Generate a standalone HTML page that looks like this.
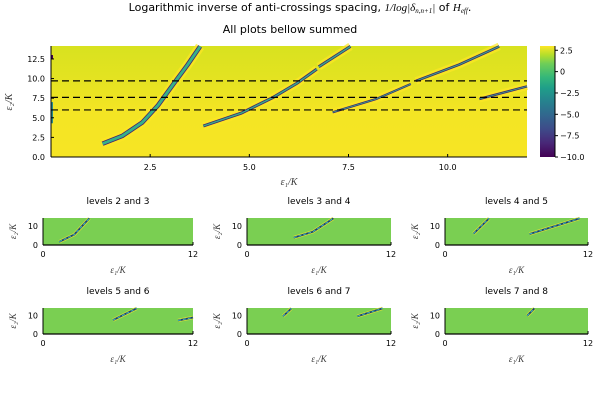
<!DOCTYPE html>
<html><head><meta charset="utf-8">
<style>
body{margin:0;background:#fff;width:600px;height:400px;overflow:hidden;font-family:"Liberation Sans","DejaVu Sans",sans-serif}
svg text{font-family:"DejaVu Sans","Liberation Sans",sans-serif}
.m{font-family:"Liberation Serif",serif;font-style:italic}
</style></head>
<body>
<svg id="chart" width="600" height="400" viewBox="0 0 600 400">
<defs>
<linearGradient id="viridis" x1="0" y1="1" x2="0" y2="0">
<stop offset="0" stop-color="#440154"/><stop offset="0.13" stop-color="#482878"/><stop offset="0.25" stop-color="#3e4a89"/><stop offset="0.38" stop-color="#31688e"/><stop offset="0.5" stop-color="#26828e"/><stop offset="0.62" stop-color="#1f9e89"/><stop offset="0.72" stop-color="#35b779"/><stop offset="0.84" stop-color="#6ece58"/><stop offset="0.92" stop-color="#b5de2b"/><stop offset="1" stop-color="#fde725"/>
</linearGradient>
<linearGradient id="mainbg" x1="0" y1="0" x2="0" y2="1">
<stop offset="0" stop-color="#d8e21f"/><stop offset="0.3" stop-color="#e4e321"/><stop offset="0.6" stop-color="#f4e524"/><stop offset="1" stop-color="#f6e524"/>
</linearGradient>
</defs>
<text x="300" y="11" font-size="11" text-anchor="middle">Logarithmic inverse of anti-crossings spacing, <tspan class="m">1/log|δ</tspan><tspan class="m" font-size="7" dy="2">n,n+1</tspan><tspan class="m" dy="-2">|</tspan>  of <tspan class="m">H</tspan><tspan class="m" font-size="7" dy="2">eff</tspan><tspan dy="-2">.</tspan></text>
<text x="290" y="33" font-size="11" text-anchor="middle">All plots bellow summed</text>
<g id="main"></g>
<g id="cbar"></g>
<g id="smalls"></g>
</svg>
<script>
// ---- data ----
const mainXTicks = [2.5, 5.0, 7.5, 10.0];
const mainXTickLabels = ["2.5", "5.0", "7.5", "10.0"];
const mainYTicks = [0, 2.5, 5, 7.5, 10, 12.5];
const mainYTickLabels = ["0.0", "2.5", "5.0", "7.5", "10.0", "12.5"];
const dashedLevels = [6.0, 7.6, 9.7];
const cbarTicks = [2.5, 0, -2.5, -5, -7.5, -10];
const cbarTickLabels = ["2.5", "0", "−2.5", "−5.0", "−7.5", "−10.0"];
const streak1X = [1.3, 1.8, 2.3, 2.7, 3.1, 3.45, 3.76];
const streak1Y = [1.7, 2.7, 4.4, 6.6, 9.4, 11.8, 14.1];
const streak2X = [3.84, 4.8, 5.6, 6.2, 6.7];
const streak2Y = [3.95, 5.6, 7.6, 9.4, 11.2];
const streak3X = [6.75, 7.55];
const streak3Y = [11.5, 14.1];
const streak4X = [7.1, 8.2, 9.07];
const streak4Y = [5.7, 7.4, 9.3];
const streak5X = [9.2, 10.3, 11.3];
const streak5Y = [9.7, 11.8, 14.1];
const streak6X = [10.8, 12.0];
const streak6Y = [7.4, 9.0];
const streakWidths = [4.5, 3, 3, 2.2, 2.6, 2.4];
const leftEdgeY0 = [4.3, 12.5];
const leftEdgeY1 = [7.0, 13.0];
const smallTitles = ["levels 2 and 3","levels 3 and 4","levels 4 and 5","levels 5 and 6","levels 6 and 7","levels 7 and 8"];
const smallStreaksX = [
 [[1.3, 2.5, 3.7]],
 [[3.9, 5.5, 7.2]],
 [[2.4, 3.7], [7.1, 11.3]],
 [[5.6, 7.5], [10.8, 12]],
 [[3.0, 3.7], [9.2, 11.3]],
 [[6.9, 7.5]]
];
const smallStreaksY = [
 [[1.7, 5.5, 14]],
 [[3.9, 7.0, 14]],
 [[6, 14], [5.8, 14]],
 [[7.6, 14], [7.4, 9]],
 [[9.7, 14], [9.7, 14]],
 [[10, 14]]
];

const NS = "http://www.w3.org/2000/svg";
function el(tag, attrs, parent, txt){const e=document.createElementNS(NS,tag);for(const k in attrs)e.setAttribute(k,attrs[k]);if(txt!==undefined)e.textContent=txt;parent.appendChild(e);return e;}

const M = {x0:51, x1:527, y0:157, y1:46, xmax:12, ymax:14.15};
const mx = v => M.x0 + v/M.xmax*(M.x1-M.x0);
const my = v => M.y0 - v/M.ymax*(M.y0-M.y1);
const g = document.getElementById('main');
let bg = el('rect',{x:M.x0,y:M.y1,width:M.x1-M.x0,height:M.y0-M.y1,fill:'url(#mainbg)'},g);


const sxs=[streak1X,streak2X,streak3X,streak4X,streak5X,streak6X];
const sys=[streak1Y,streak2Y,streak3Y,streak4Y,streak5Y,streak6Y];
sxs.forEach((xs,i)=>{
  const pts = xs.map((x,j)=>mx(x)+','+my(sys[i][j])).join(' ');
  const sg = el('g',{},g);
  
  
  el('polyline',{points:pts,fill:'none',stroke:'#fde725','stroke-width':streakWidths[i]+5,'stroke-opacity':0.7},sg);
  el('polyline',{points:pts,fill:'none',stroke:'#46206e','stroke-width':streakWidths[i]},sg);
  el('polyline',{points:pts,fill:'none',stroke:'#35b08a','stroke-width':Math.max(0.8,streakWidths[i]-1.6)},sg);
});
leftEdgeY0.forEach((y,i)=>{
  const r = el('rect',{x:M.x0,y:my(leftEdgeY1[i]),width:2,height:my(y)-my(leftEdgeY1[i]),fill:i==0?'#2a8a8a':'#440154'},g);
  
  
});
dashedLevels.forEach(v=>{
  const l = el('line',{x1:M.x0,x2:M.x1,y1:my(v),y2:my(v),stroke:'#000','stroke-width':1.2,'stroke-dasharray':'7,4'},g);
  
  
});
el('line',{x1:M.x0,x2:M.x0,y1:M.y1,y2:M.y0,stroke:'#000','stroke-width':1},g);
el('line',{x1:M.x0,x2:M.x1,y1:M.y0,y2:M.y0,stroke:'#000','stroke-width':1},g);
mainXTicks.forEach((v,i)=>{
  el('line',{x1:mx(v),x2:mx(v),y1:M.y0,y2:M.y0-3,stroke:'#000'},g);
  const t = el('text',{x:mx(v),y:M.y0+13,'font-size':8,'text-anchor':'middle'},g,mainXTickLabels[i]);
  
  
});
mainYTicks.forEach((v,i)=>{
  el('line',{x1:M.x0,x2:M.x0+3,y1:my(v),y2:my(v),stroke:'#000'},g);
  const t = el('text',{x:M.x0-6,y:my(v)+3,'font-size':8,'text-anchor':'end'},g,mainYTickLabels[i]);
  
  
});
let xt = el('text',{x:289,y:185,'font-size':10,'text-anchor':'middle','class':'m',fill:'#333'},g,'ε₁/K');


let yt = el('text',{x:0,y:0,'font-size':10,'text-anchor':'middle','class':'m',fill:'#333',transform:'translate(12,102) rotate(-90)'},g,'ε₂/K');



const cb = document.getElementById('cbar');
const C = {x:540,w:15,top:46,bot:157,vmin:-10,vmax:3.0};
const cy = v => C.bot - (v-C.vmin)/(C.vmax-C.vmin)*(C.bot-C.top);
el('rect',{x:C.x,y:C.top,width:C.w,height:C.bot-C.top,fill:'url(#viridis)'},cb);
el('line',{x1:C.x+C.w,x2:C.x+C.w,y1:C.top,y2:C.bot,stroke:'#000'},cb);
cbarTicks.forEach((v,i)=>{
  el('line',{x1:C.x+C.w,x2:C.x+C.w+3,y1:cy(v),y2:cy(v),stroke:'#000'},cb);
  const t = el('text',{x:C.x+C.w+5,y:cy(v)+3,'font-size':8},cb,cbarTickLabels[i]);
  
  
});

const sm = document.getElementById('smalls');
const colX0 = [43, 247, 445], colX1 = [193, 391, 588];
const rowTop = [218, 308], rowBot = [245, 334], rowTitle = [204, 294];
smallTitles.forEach((title,k)=>{
  const r = Math.floor(k/3), c = k%3;
  const x0=colX0[c], x1=colX1[c], yb=rowBot[r], ytp=rowTop[r];
  const sx = v => x0 + v/12*(x1-x0);
  const sy = v => yb - v/14.2*(yb-ytp);
  const pg = el('g',{},sm);
  
  
  const tt = el('text',{x:(x0+x1)/2,y:rowTitle[r],'font-size':9,'text-anchor':'middle'},pg,title);
  
  
  el('rect',{x:x0,y:ytp,width:x1-x0,height:yb-ytp,fill:'#7acf52'},pg);
  smallStreaksX[k].forEach((xs,j)=>{
    const ys = smallStreaksY[k][j];
    const pts = xs.map((x,q)=>sx(x)+','+sy(ys[q])).join(' ');
    el('polyline',{points:pts,fill:'none',stroke:'#f0e530','stroke-width':3.5,'stroke-opacity':0.7},pg);
    el('polyline',{points:pts,fill:'none',stroke:'#1c3f6e','stroke-width':1.8},pg);
    el('polyline',{points:pts,fill:'none',stroke:'#3cc0c0','stroke-width':0.9,'stroke-dasharray':'3,2'},pg);
  });
  el('line',{x1:x0,x2:x0,y1:ytp,y2:yb,stroke:'#000'},pg);
  el('line',{x1:x0,x2:x1,y1:yb,y2:yb,stroke:'#000','stroke-width':1.2},pg);
  el('line',{x1:x1,x2:x1,y1:yb,y2:yb-3,stroke:'#000'},pg);
  [['0',x0],['12',x1]].forEach(([lab,xp])=>{
    const t = el('text',{x:xp,y:yb+12,'font-size':8,'text-anchor':'middle'},pg,lab);
    
    
  });
  [['0',0],['10',10]].forEach(([lab,v])=>{
    const t = el('text',{x:x0-5,y:sy(v)+3,'font-size':8,'text-anchor':'end'},pg,lab);
    
    
  });
  const xa = el('text',{x:(x0+x1)/2,y:yb+28,'font-size':9,'text-anchor':'middle','class':'m',fill:'#333'},pg,'ε₁/K');
  
  
  const ya = el('text',{x:0,y:0,'font-size':9,'text-anchor':'middle','class':'m',fill:'#333',transform:`translate(${x0-27},${(ytp+yb)/2}) rotate(-90)`},pg,'ε₂/K');
  
  
});
</script>
</body></html>
